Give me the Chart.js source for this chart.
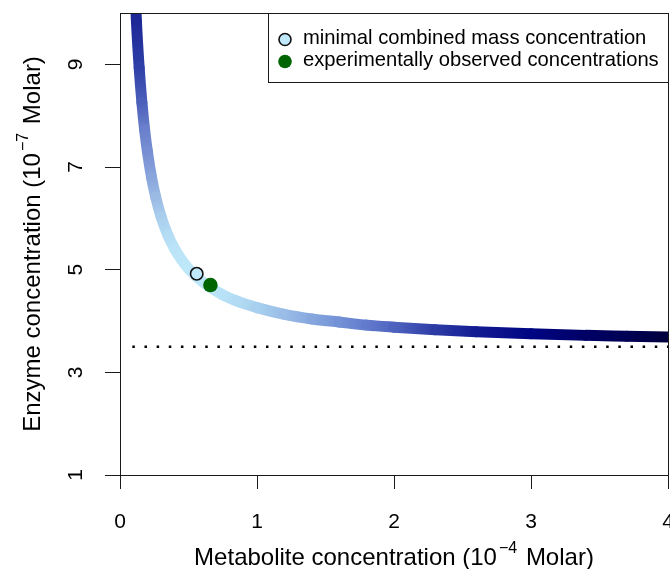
<!DOCTYPE html>
<html><head><meta charset="utf-8">
<script src="https://cdn.jsdelivr.net/npm/chart.js@4.4.1/dist/chart.umd.min.js"></script>
<style>html,body{margin:0;padding:0;background:#fff;}#wrap{width:670px;height:569px;}</style>
</head><body><div id="wrap"><canvas id="c" width="670" height="569"></canvas></div>
<script>
// ---- data ----
const curveMetabolite = [0.10,0.12,0.14,0.16,0.18,0.20,0.23,0.26,0.30,0.35,0.40,0.45,0.50,0.56,0.65,0.75,0.85,1.00,1.20,1.40,1.60,1.80,2.00,2.30,2.60,3.00,3.40,3.70,4.00];
const curveEnzyme     = [11.1,9.83,8.93,8.25,7.72,7.30,6.80,6.42,6.03,5.67,5.40,5.19,5.02,4.86,4.67,4.51,4.39,4.26,4.13,4.04,3.98,3.92,3.88,3.83,3.79,3.75,3.72,3.705,3.69];
const minimalMetabolite = [0.56];
const minimalEnzyme     = [4.92];
const observedMetabolite = [0.66];
const observedEnzyme     = [4.70];
const limitMetabolite = [0.09, 4.0];
const limitEnzyme     = [3.5, 3.5];
const xTicks = [0, 1, 2, 3, 4];
const yTicks = [1, 3, 5, 7, 9];
const legendLabels = ['minimal combined mass concentration', 'experimentally observed concentrations'];
const xTitleParts = ['Metabolite concentration (10', '\u22124', ' Molar)'];
const yTitleParts = ['Enzyme concentration (10', '\u22127', ' Molar)'];

// ---- colour ramp along the curve (style) ----
const rampStops = [
  [0.10,'#1a2090'],[0.117,'#1c2494'],[0.14,'#2e40a8'],[0.18,'#6a80cc'],[0.25,'#96b4e2'],
  [0.32,'#b0d8f2'],[0.42,'#bce6f8'],[0.56,'#c0eafa'],[0.80,'#b6e0f6'],[1.00,'#a8d0ee'],
  [1.17,'#9cc0e8'],[1.50,'#7c9cda'],[1.90,'#5a70c8'],[2.26,'#3040a8'],[2.63,'#101890'],
  [2.92,'#00088a'],[3.20,'#000070'],[3.65,'#000058'],[4.00,'#00003c']
];
function hex2rgb(h){return [parseInt(h.slice(1,3),16),parseInt(h.slice(3,5),16),parseInt(h.slice(5,7),16)];}
function rampColor(v){
  if (v <= rampStops[0][0]) return rampStops[0][1];
  for (let i=1;i<rampStops.length;i++){
    if (v <= rampStops[i][0]){
      const [a,ca]=rampStops[i-1],[b,cb]=rampStops[i];
      const t=(v-a)/(b-a), A=hex2rgb(ca), B=hex2rgb(cb);
      return 'rgb('+A.map((x,k)=>Math.round(x+(B[k]-x)*t)).join(',')+')';
    }
  }
  return rampStops[rampStops.length-1][1];
}

const FONT = "'Liberation Sans', Arial, Helvetica, sans-serif";
const zip = (xs, ys) => xs.map((x,i)=>({x, y: ys[i]}));
const noPad = s => { s.paddingLeft = 0; s.paddingRight = 0; s.paddingTop = 0; s.paddingBottom = 0; };

// axis title with a superscript, centred on the scale
function drawTitle(ctx, parts, cx, cy, rot){
  const main = '24px ' + FONT, sup = '16px ' + FONT, gap = 2;
  ctx.save();
  ctx.translate(cx, cy); ctx.rotate(rot);
  ctx.fillStyle = '#000'; ctx.textBaseline = 'alphabetic'; ctx.textAlign = 'left';
  ctx.font = main; const w0 = ctx.measureText(parts[0]).width, w2 = ctx.measureText(parts[2]).width;
  ctx.font = sup;  const w1 = ctx.measureText(parts[1]).width;
  const total = w0 + gap + w1 + gap + w2;
  let x = -total/2;
  ctx.font = main; ctx.fillText(parts[0], x, 0); x += w0 + gap;
  ctx.font = sup;  ctx.fillText(parts[1], x, -12); x += w1 + gap;
  ctx.font = main; ctx.fillText(parts[2], x, 0);
  ctx.restore();
}

const framePlugin = {
  id: 'frame',
  afterDraw(chart){
    const {ctx, chartArea:a} = chart;
    const xs = chart.scales.x, ys = chart.scales.y;
    ctx.save();
    ctx.strokeStyle = '#1a1a1a'; ctx.lineWidth = 1;
    ctx.strokeRect(Math.round(a.left)+0.5, Math.round(a.top)+0.5, Math.round(a.right-a.left), Math.round(a.bottom-a.top));
    // axis titles
    drawTitle(ctx, xTitleParts, (xs.left + xs.right)/2, xs.bottom - 4, 0);
    drawTitle(ctx, yTitleParts, ys.left + 40, (ys.top + ys.bottom)/2, -Math.PI/2);
    // legend box
    const bx = 268.5, by = 13.5, bw = 400, bh = 69;
    ctx.fillStyle = '#fff';
    ctx.fillRect(bx, by, bw, bh);
    ctx.strokeRect(bx, by, bw, bh);
    const items = [chart.data.datasets[1], chart.data.datasets[0]];
    const radii = [6, 6.8];
    const rows = [39.5, 61.5];
    ctx.font = '20.2px ' + FONT;
    ctx.textBaseline = 'alphabetic';
    ctx.textAlign = 'left';
    items.forEach((ds, i) => {
      ctx.beginPath();
      ctx.arc(285, rows[i], radii[i], 0, Math.PI*2);
      ctx.fillStyle = ds.backgroundColor; ctx.fill();
      if (ds.borderWidth){ ctx.lineWidth = ds.borderWidth; ctx.strokeStyle = ds.borderColor; ctx.stroke(); }
      ctx.fillStyle = '#000';
      ctx.fillText(ds.label, 303, rows[i] + 4.8);
    });
    ctx.restore();
  }
};

new Chart(document.getElementById('c'), {
  type: 'scatter',
  data: {
    datasets: [
      { label: legendLabels[1], data: zip(observedMetabolite, observedEnzyme),
        pointRadius: 7.3, backgroundColor: '#006400', borderColor: '#006400', borderWidth: 0, clip: false },
      { label: legendLabels[0], data: zip(minimalMetabolite, minimalEnzyme),
        pointRadius: 6.2, backgroundColor: '#bfe8fa', borderColor: '#111', borderWidth: 1.6, clip: false },
      { label: 'curve', data: zip(curveMetabolite, curveEnzyme), showLine: true, pointRadius: 0,
        borderWidth: 11, borderCapStyle: 'round', borderJoinStyle: 'round', cubicInterpolationMode: 'monotone',
        clip: 0, borderColor: '#6a80cc',
        segment: {
          borderColor: c => {
            const g = c.chart.ctx.createLinearGradient(c.p0.x, c.p0.y, c.p1.x, c.p1.y);
            g.addColorStop(0, rampColor(curveMetabolite[c.p0DataIndex]));
            g.addColorStop(1, rampColor(curveMetabolite[c.p1DataIndex]));
            return g;
          },
          borderDashOffset: c => c.p0DataIndex
        } },
      { label: 'limit', data: zip(limitMetabolite, limitEnzyme), showLine: true, pointRadius: 0,
        borderWidth: 2.5, borderColor: '#000', borderDash: [2.5, 9.65], clip: 0 }
    ]
  },
  options: {
    responsive: false, animation: false, devicePixelRatio: 1,
    layout: { padding: { top: 13, right: 2, left: 0, bottom: 0 }, autoPadding: false },
    plugins: { legend: { display: false }, tooltip: { enabled: false } },
    scales: {
      x: {
        type: 'linear', min: 0, max: 4,
        afterBuildTicks: s => { s.ticks = xTicks.map(v => ({ value: v })); },
        afterFit: s => { s.height = 94; noPad(s); },
        grid: { display: true, drawOnChartArea: false, drawTicks: true, tickLength: 14, color: '#1a1a1a', tickWidth: 1 },
        border: { display: true, color: '#1a1a1a', width: 1 },
        ticks: { color: '#000', font: { family: FONT, size: 21 }, padding: 21, maxRotation: 0, autoSkip: false },
        title: { display: false }
      },
      y: {
        type: 'linear', min: 1, max: 10,
        afterBuildTicks: s => { s.ticks = yTicks.map(v => ({ value: v })); },
        afterFit: s => { s.width = 120; noPad(s); },
        grid: { display: true, drawOnChartArea: false, drawTicks: true, tickLength: 15, color: '#1a1a1a', tickWidth: 1 },
        border: { display: true, color: '#1a1a1a', width: 1 },
        ticks: { color: '#000', font: { family: FONT, size: 21 }, padding: 23, minRotation: 90, maxRotation: 90, crossAlign: 'center', autoSkip: false },
        title: { display: false }
      }
    }
  },
  plugins: [framePlugin]
});
</script></body></html>
